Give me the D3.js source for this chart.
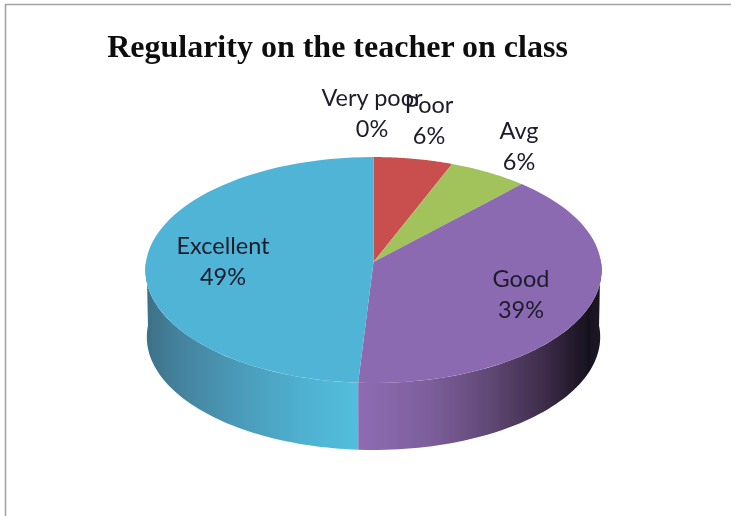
<!DOCTYPE html>
<html><head><meta charset="utf-8">
<style>html,body{margin:0;padding:0;background:#fff;overflow:hidden}svg{display:block}</style>
<script src="https://cdn.jsdelivr.net/npm/d3@7"></script></head>
<body><svg id="c" width="731" height="516"></svg>
<script>
const titleText = "Regularity on the teacher on class";
const categories = ["Very poor","Poor","Avg","Good","Excellent"];
const values = [0,6,6,39,49];
const percentLabels = ["0%","6%","6%","39%","49%"];
const topColors = ["#e08a3c","#c9504f","#a2c35c","#8c6bb1","#50b4d6"];
const labelX = [372,429,519,521,223];
const labelY = [106,113,139,287,254];

const W=731,H=516, cx=373.5, cy=262, R=227.5, HY=112.4, K=-0.0708, depth=67, bottomScale=0.994;
const svg=d3.select("#c");
const defs=svg.append("defs");
defs.append("filter").attr("id","soft").append("feGaussianBlur").attr("stdDeviation",0.45);
const wallGrad=(id,stops)=>{const g=defs.append("linearGradient").attr("id",id).attr("gradientUnits","userSpaceOnUse")
  .attr("x1",145).attr("x2",602).attr("y1",0).attr("y2",0);
  stops.forEach(([o,c])=>g.append("stop").attr("offset",o).attr("stop-color",c));};
wallGrad("wallCyan",[[0,"#3c6f86"],[0.06,"#437f98"],[0.2,"#4a9ab8"],[0.36,"#50b3d2"],[0.47,"#52bedd"]]);
wallGrad("wallPurple",[[0.46,"#8f6cb3"],[0.62,"#7d5f9c"],[0.76,"#5f4773"],[0.88,"#3b2b47"],[0.97,"#17111e"],[1,"#1e1726"]]);

const root=svg.append("g").attr("filter","url(#soft)");
root.append("rect").attr("width",W).attr("height",H).attr("fill","#fff");
const a2=d3.pie().sort(null).value(d=>d).startAngle(0).endAngle(2*Math.PI)(values);
const project=(t,drop=0)=>{const a=Math.sin(t),b=-Math.cos(t),den=1+K*b,s=drop?bottomScale:1;
  return [cx+s*R*a/den, cy+HY*b/den+drop];};
const line=d3.line();
const sample=(t0,t1)=>d3.range(0,61).map(i=>t0+(t1-t0)*i/60);

const rimStart=Math.PI/2-0.03, rimEnd=3*Math.PI/2+0.03;
const wallFill=i=>categories[i]==="Excellent"?"url(#wallCyan)":"url(#wallPurple)";
a2.forEach((d,i)=>{
  const t0=Math.max(d.startAngle,rimStart),t1=Math.min(d.endAngle,rimEnd);
  if(t1<=t0)return;
  const ts=sample(t0,t1);
  const pts=ts.map(t=>project(t)).concat(ts.slice().reverse().map(t=>project(t,depth)));
  root.append("path").attr("d",line(pts)+"Z").attr("fill",wallFill(i));
});
a2.forEach((d,i)=>{
  if(d.endAngle-d.startAngle<=0)return;
  const pts=[[cx,cy]].concat(sample(d.startAngle,d.endAngle).map(t=>project(t)));
  root.append("path").attr("d",line(pts)+"Z").attr("fill",topColors[i]);
});
root.append("path").attr("d",line([[5.5,516],[5.5,4.5],[731,4.5]])).attr("fill","none").attr("stroke","#a3a3a3").attr("stroke-width",1.6);
root.append("text").attr("x",337.5).attr("y",57).attr("text-anchor","middle")
  .attr("font-family","'Liberation Serif',serif").attr("font-weight","bold").attr("font-size",32).attr("fill","#111").text(titleText);
categories.forEach((c,i)=>{
  const g=root.append("text").attr("text-anchor","middle").attr("font-family","Lato,sans-serif").attr("font-size",23.5).attr("fill","#1c1c2c");
  g.append("tspan").attr("x",labelX[i]).attr("y",labelY[i]).text(c);
  g.append("tspan").attr("x",labelX[i]).attr("y",labelY[i]+31).text(percentLabels[i]);
});
</script></body></html>
